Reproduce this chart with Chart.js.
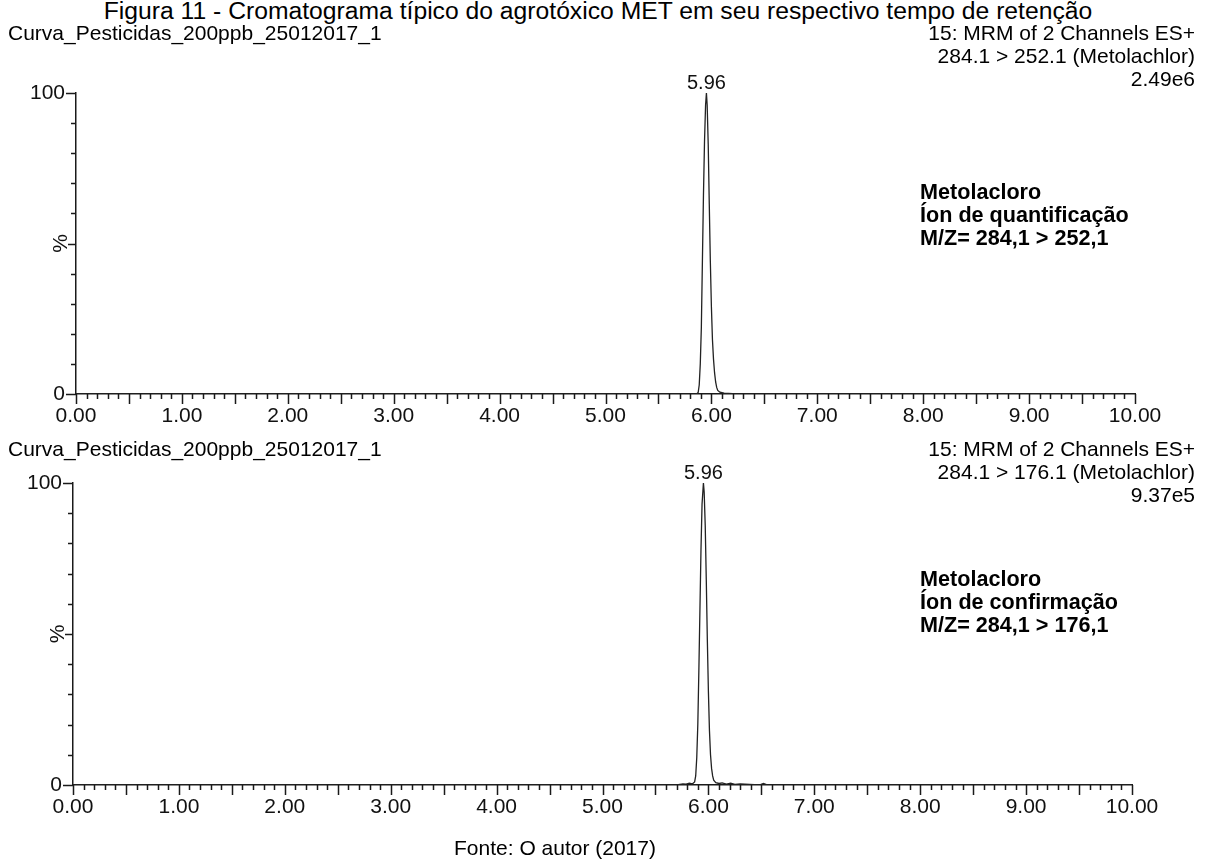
<!DOCTYPE html>
<html>
<head>
<meta charset="utf-8">
<script src="https://cdn.jsdelivr.net/npm/chart.js@4.4.1/dist/chart.umd.min.js"></script>
<style>
  html, body { margin:0; padding:0; background:#fff; }
  body { width:1205px; height:861px; position:relative; overflow:hidden; font-family:"Liberation Sans", Arial, sans-serif; color:#000; }
  .t { position:absolute; font-size:21px; line-height:23px; white-space:nowrap; z-index:2; }
  .r { text-align:right; right:10px; }
  .b { font-weight:bold; font-size:21.6px; }
  canvas { position:absolute; left:0; }
</style>
</head>
<body>
<div class="t" style="left:0;width:1196px;text-align:center;top:-1px;font-size:24.7px;">Figura 11 - Cromatograma típico do agrotóxico MET em seu respectivo tempo de retenção</div>

<div class="t" style="left:8px;top:21px;">Curva_Pesticidas_200ppb_25012017_1</div>
<div class="t r" style="top:21px;">15: MRM of 2 Channels ES+<br>284.1 &gt; 252.1 (Metolachlor)<br>2.49e6</div>
<div class="t b" style="left:920px;top:180px;">Metolacloro<br>Íon de quantificação<br>M/Z= 284,1 &gt; 252,1</div>

<div class="t" style="left:8px;top:437px;">Curva_Pesticidas_200ppb_25012017_1</div>
<div class="t r" style="top:437px;">15: MRM of 2 Channels ES+<br>284.1 &gt; 176.1 (Metolachlor)<br>9.37e5</div>
<div class="t b" style="left:920px;top:567px;">Metolacloro<br>Íon de confirmação<br>M/Z= 284,1 &gt; 176,1</div>

<div class="t" style="left:0;width:1110px;text-align:center;top:836px;">Fonte: O autor (2017)</div>

<canvas id="c1" style="top:40px;" width="1205" height="400"></canvas>
<canvas id="c2" style="top:440px;" width="1205" height="400"></canvas>

<script>
// ---- data ----
const xTickLabels = ['0.00','1.00','2.00','3.00','4.00','5.00','6.00','7.00','8.00','9.00','10.00'];
const yTickLabels = { 0: '0', 100: '100' };
const peakLabels = ['5.96', '5.96'];
const peakTimes = [5.953, 5.953];

// Top trace: 284.1 > 252.1 (quantification ion)
const timeQuant = [0.00, 5.80, 5.86, 5.875, 5.885, 5.895, 5.905, 5.915, 5.925, 5.935, 5.945, 5.953, 5.96, 5.97, 5.98, 5.99, 6.00, 6.01, 6.02, 6.03, 6.04, 6.05, 6.06, 6.08, 6.12, 6.20, 6.40, 10.00];
const intQuant  = [0,    0,    0,    0.5,   3,     10,    22,    44,    66,    84,    96,    100,   96,   83,   63,   44,   29,   18,   11.5, 7,    4,    2.2,  1.2,  0.6,  0.3,  0.1,  0,    0];

// Bottom trace: 284.1 > 176.1 (confirmation ion)
const timeConf = [0.00, 5.70, 5.76, 5.79, 5.82, 5.85, 5.87, 5.88, 5.89, 5.90, 5.91, 5.92, 5.93, 5.94, 5.953, 5.96, 5.97, 5.98, 5.99, 6.00, 6.01, 6.02, 6.03, 6.04, 6.05, 6.07, 6.10, 6.13, 6.17, 6.21, 6.25, 6.30, 6.48, 6.52, 6.56, 10.00];
const intConf  = [0,    0,    0.4,  0.3,  0.6,  0.4,  1,    3,    9,    20,   38,   58,   78,   93,   100,   97,   86,   68,   48,   31,   18,   10,   5.5,  3,    1.6,  0.8,  0.5,  0.7,  0.3,  0.6,  0.2,  0.4,  0,    0.5,  0,    0];

const FONT = '"Liberation Sans", Arial, sans-serif';
const AXIS = '#1a1a1a';

const tickPlugin = {
  id: 'msTicks',
  afterDraw(chart) {
    const ctx = chart.ctx, xs = chart.scales.x, ys = chart.scales.y, a = chart.chartArea;
    ctx.save();
    ctx.strokeStyle = AXIS;
    ctx.lineWidth = 1.5;
    ctx.beginPath();
    for (let i = 0; i <= 100; i++) {
      const px = Math.round(xs.getPixelForValue(i / 10)) + 0.5;
      const len = (i % 5 === 0) ? 10 : 5;
      ctx.moveTo(px, a.bottom);
      ctx.lineTo(px, a.bottom + len);
    }
    for (let j = 0; j <= 10; j++) {
      const py = Math.round(ys.getPixelForValue(j * 10)) + 0.5;
      const len = (j === 0 || j === 10) ? 10 : (j === 5 ? 8 : 5);
      ctx.moveTo(a.left, py);
      ctx.lineTo(a.left - len, py);
    }
    ctx.stroke();
    // rotated "%" axis label at 50
    ctx.fillStyle = '#111';
    ctx.font = '21px ' + FONT;
    ctx.translate(a.left - 9, ys.getPixelForValue(50));
    ctx.rotate(-Math.PI / 2);
    ctx.textAlign = 'center';
    ctx.textBaseline = 'alphabetic';
    ctx.fillText('%', 0, 0);
    ctx.restore();
    // peak label
    const idx = chart.options.plugins.msTicks.idx;
    ctx.save();
    ctx.fillStyle = '#111';
    ctx.font = '20px ' + FONT;
    ctx.textAlign = 'center';
    ctx.textBaseline = 'alphabetic';
    ctx.fillText(peakLabels[idx], xs.getPixelForValue(peakTimes[idx]), ys.getPixelForValue(100) - 4);
    ctx.restore();
  }
};

function makeChart(id, times, ints, idx, pad, yWidth) {
  const pts = times.map((t, i) => ({ x: t, y: ints[i] }));
  return new Chart(document.getElementById(id), {
    type: 'line',
    data: { datasets: [{ data: pts, borderColor: '#222', borderWidth: 1.3, pointRadius: 0, tension: 0, fill: false }] },
    options: {
      responsive: false, animation: false,
      layout: { padding: pad },
      plugins: { legend: { display: false }, tooltip: { enabled: false }, msTicks: { idx: idx } },
      scales: {
        x: {
          type: 'linear', min: 0, max: 10,
          afterFit(s) { s.height = 46; },
          grid: { display: true, drawOnChartArea: false, drawTicks: false },
          border: { display: true, color: AXIS, width: 1.5 },
          ticks: {
            stepSize: 0.1, autoSkip: false, maxRotation: 0, minRotation: 0, padding: 10,
            color: '#111', font: { family: FONT, size: 21 },
            callback: (v, i) => (i % 10 === 0 ? xTickLabels[i / 10] : '')
          }
        },
        y: {
          min: 0, max: 100,
          afterFit(s) { s.width = yWidth; },
          grid: { display: true, drawOnChartArea: false, drawTicks: false },
          border: { display: true, color: AXIS, width: 1.5 },
          ticks: {
            stepSize: 10, padding: 11, color: '#111', font: { family: FONT, size: 21 },
            callback: (v) => (yTickLabels[v] !== undefined ? yTickLabels[v] : '')
          }
        }
      }
    },
    plugins: [tickPlugin]
  });
}

makeChart('c1', timeQuant, intQuant, 0, { top: 53, right: 70, bottom: 0, left: 0 }, 76);
makeChart('c2', timeConf, intConf, 1, { top: 43, right: 73, bottom: 9, left: 0 }, 73);
</script>
</body>
</html>
